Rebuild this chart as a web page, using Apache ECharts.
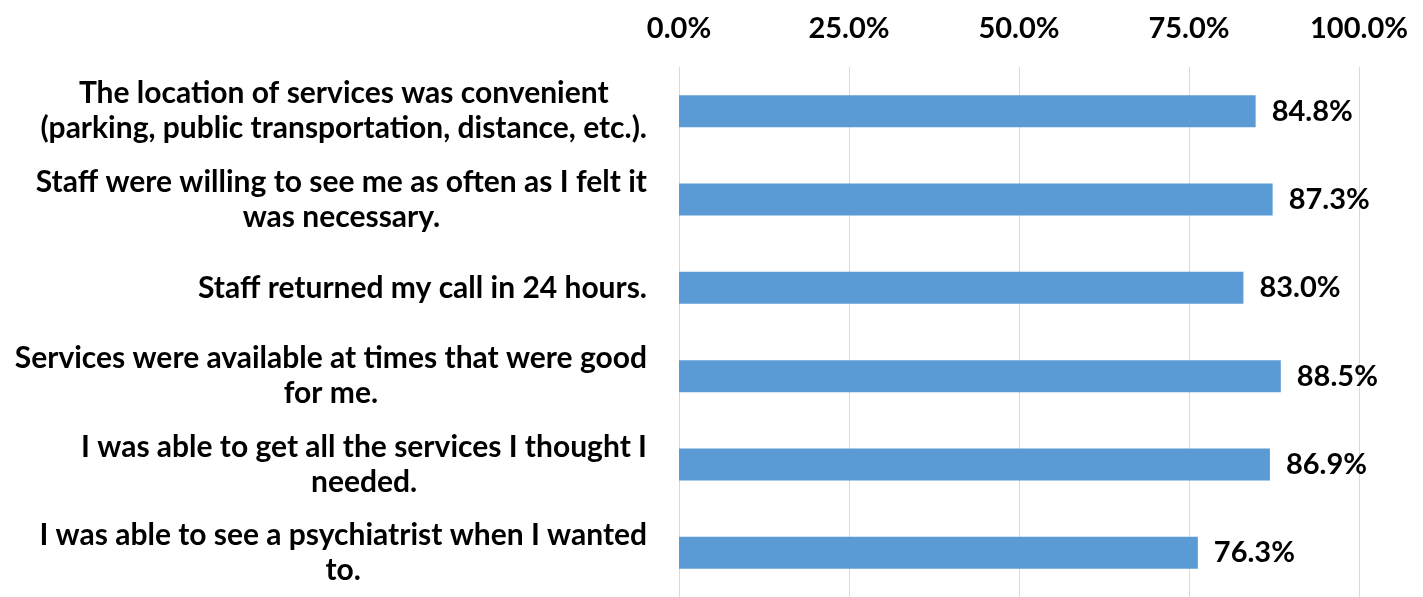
<!DOCTYPE html>
<html>
<head>
<meta charset="utf-8">
<script src="https://cdn.jsdelivr.net/npm/echarts@6/dist/echarts.min.js"></script>
<style>
    html, body { margin: 0; padding: 0; background: #fff; }
    #main { width: 1423px; height: 597px; }
</style>
</head>
<body>
<div id="main"></div>
<script>
// survey items, top to bottom (line breaks as in the original labels)
var categories = [
    'The location of services was convenient\n(parking, public transportation, distance, etc.).',
    'Staff were willing to see me as often as I felt it\nwas necessary.',
    'Staff returned my call in 24 hours.',
    'Services were available at times that were good\nfor me.',
    'I was able to get all the services I thought I\nneeded.',
    'I was able to see a psychiatrist when I wanted\nto.'
];
var percentAgree = [84.8, 87.3, 83.0, 88.5, 86.9, 76.3];
var xTicks = [0, 25, 50, 75, 100];

var font = 'Lato';

var chart = echarts.init(document.getElementById('main'));

var option = {
    animation: false,
    backgroundColor: '#ffffff',
    grid: {
        left: 679,
        right: 64,
        top: 67,
        bottom: 0,
        containLabel: false
    },
    xAxis: {
        type: 'value',
        position: 'top',
        min: xTicks[0],
        max: xTicks[xTicks.length - 1],
        interval: 25,
        axisLine: { show: false },
        axisTick: { show: false },
        splitLine: { show: true, lineStyle: { color: '#d9d9d9', width: 1 } },
        axisLabel: {
            margin: 24,
            fontFamily: font,
            fontWeight: 'bold',
            fontSize: 29,
            color: '#000',
            formatter: function (v) { return v.toFixed(1) + '%'; }
        }
    },
    yAxis: {
        type: 'category',
        inverse: true,
        data: categories,
        axisLine: { show: false },
        axisTick: { show: false },
        axisLabel: {
            margin: 32,
            align: 'right',
            formatter: function (v) {
                return v.split('\n').map(function (l) { return '{c|' + l + '}'; }).join('\n');
            },
            rich: {
                c: {
                    align: 'center',
                    fontFamily: font,
                    fontWeight: 'bold',
                    fontSize: 30,
                    lineHeight: 35,
                    color: '#000'
                }
            }
        }
    },
    series: [{
        type: 'bar',
        data: percentAgree,
        barWidth: 32,
        itemStyle: { color: '#5b9bd5' },
        label: {
            show: true,
            position: 'right',
            distance: 16,
            fontFamily: font,
            fontWeight: 'bold',
            fontSize: 29,
            color: '#000',
            formatter: function (p) { return p.value.toFixed(1) + '%'; }
        }
    }]
};

chart.setOption(option);
</script>
</body>
</html>
